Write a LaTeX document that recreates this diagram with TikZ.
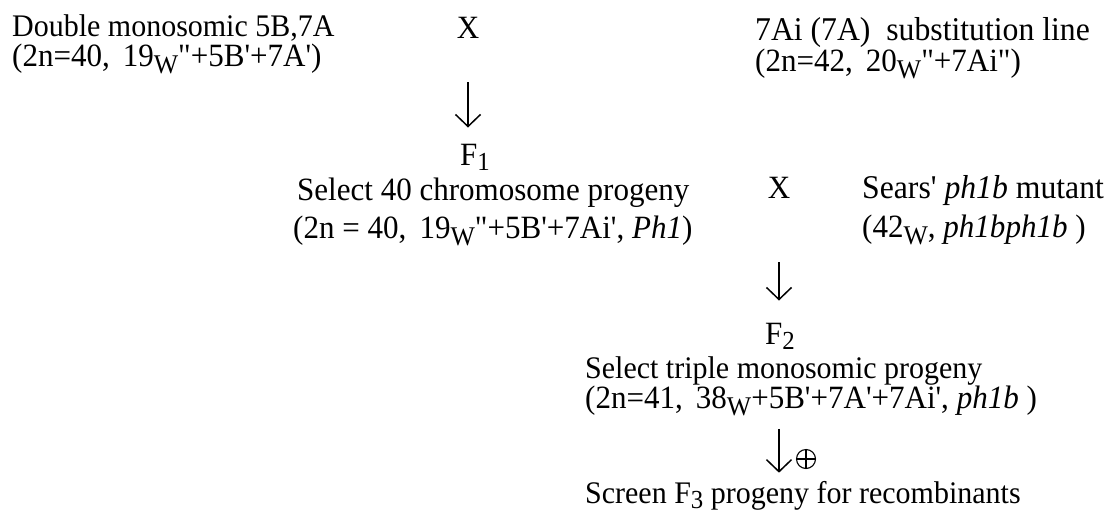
\documentclass[tikz,border=0pt]{standalone}
\usepackage{fontspec}
\setmainfont{Liberation Serif}[Ligatures=TeXOff,FakeStretch=0.955]
\usetikzlibrary{arrows.meta}
\newcommand\sW{\raisebox{-0.22em}{\fontsize{27}{27}\selectfont W}}
\newcommand\sbn[1]{\raisebox{-0.18em}{\fontsize{26}{26}\selectfont #1}}
\newcommand\csp{,\hspace{0.4em}}
\begin{document}
\begin{tikzpicture}[x=1pt,y=-1pt,
  txt/.style={inner sep=0pt,anchor=base west,font=\fontsize{32.5}{32.5}\selectfont},
  ctxt/.style={inner sep=0pt,anchor=base,font=\fontsize{32.5}{32.5}\selectfont},
  small/.style={font=\fontsize{31.4}{31.4}\selectfont},
  big/.style={font=\fontsize{33.2}{33.2}\selectfont},
  arr/.style={line width=1.5pt,-{Straight Barb[length=12pt,width=25pt,line width=1.5pt]}},
  oplus/.style={circle,draw,line width=1.1pt,minimum size=19pt,inner sep=0pt,
    path picture={\draw[line width=1.1pt]
      (path picture bounding box.north) -- (path picture bounding box.south)
      (path picture bounding box.west) -- (path picture bounding box.east);}}]
\useasboundingbox (0,0) rectangle (1113,515);
\node[txt,small] (t1a) at (12,36) {Double monosomic 5B,7A};
\node[txt] (t1b) at (12,66) {(2n=40\csp 19\sW"+5B'+7A')};
\node[ctxt] (x1) at (468,38) {X};
\node[txt,big] (t2a) at (755,40) {7Ai (7A)\ \ substitution line};
\node[txt] (t2b) at (755,71) {(2n=42\csp 20\sW"+7Ai")};
\node[txt] (f1) at (460,165) {F\sbn{1}};
\node[txt] (t3a) at (297,200) {Select 40 chromosome progeny};
\node[txt] (t3b) at (293,238) {(2n = 40, \,19\sW"+5B'+7Ai', \textit{Ph1})};
\node[ctxt] (x2) at (779,198) {X};
\node[txt,big] (t4a) at (862,198) {Sears' \textit{ph1b} mutant};
\node[txt] (t4b) at (862,237) {(42\sW, \textit{ph1bph1b} )};
\node[txt] (f2) at (765,344) {F\sbn{2}};
\node[txt,small] (t5a) at (585,378) {Select triple monosomic progeny};
\node[txt] (t5b) at (585,408) {(2n=41\csp 38\sW+5B'+7A'+7Ai', \textit{ph1b} )};
\node[txt,small] (t6) at (585,503) {Screen F\sbn{3} progeny for recombinants};
\node[oplus] (op) at (806,459) {};
\draw[arr,shorten <=44pt,shorten >=16pt] (x1.south) -- (x1.south |- f1.north);
\draw[arr,shorten <=64pt,shorten >=22pt] (x2.south) -- (x2.south |- f2.north);
\draw[arr,shorten <=13pt,shorten >=8pt] (x2.south |- t5b.south) -- (x2.south |- t6.north);
\end{tikzpicture}
\end{document}
